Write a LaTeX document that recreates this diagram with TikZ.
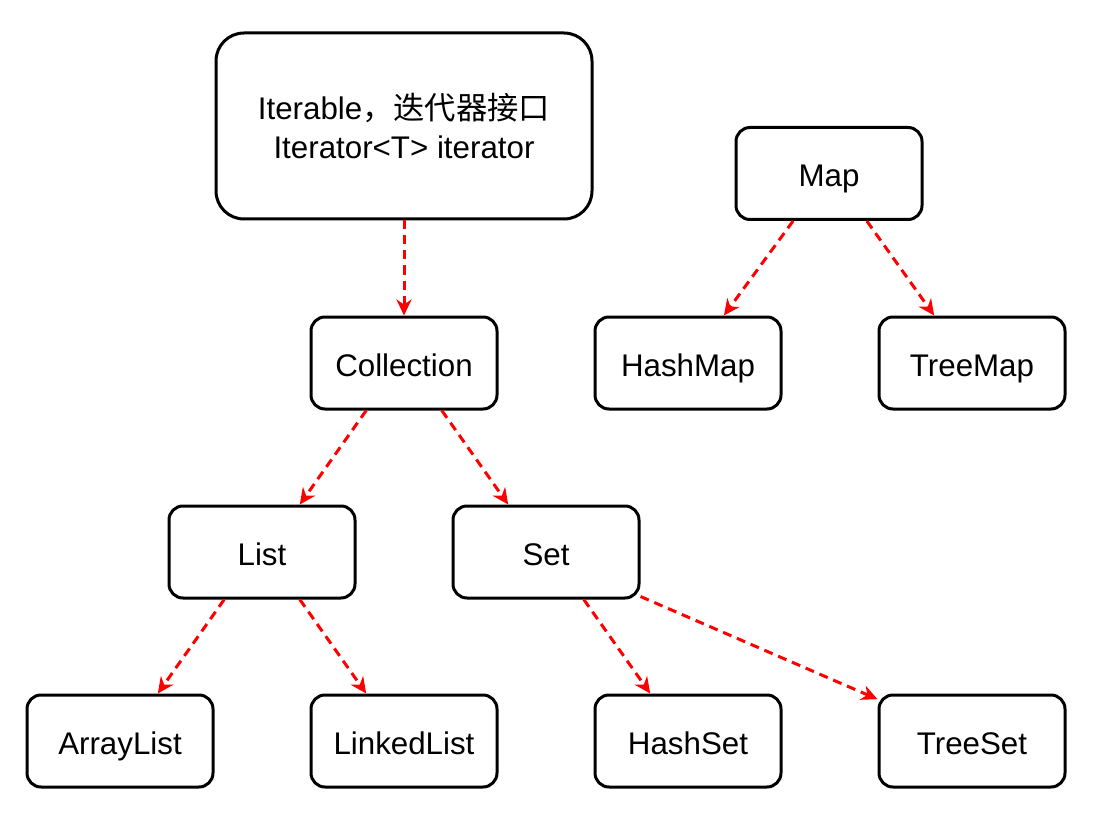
\documentclass[tikz,border=0pt]{standalone}
\usepackage{fontspec}
\setmainfont{Liberation Sans}
\newfontfamily\cjk{Noto Sans CJK SC}
\usetikzlibrary{arrows.meta,calc}
\begin{document}
\begin{tikzpicture}[x=1pt,y=-1pt,
  basebox/.style={draw=black, line width=3pt, rounded corners=14pt, minimum width=186pt,
    minimum height=92pt, inner sep=0pt, fill=white,
    font=\fontsize{31.3}{39}\selectfont},
  box/.style={basebox, text height=27pt, text depth=0pt},
  bigbox/.style={basebox, align=center, minimum width=376pt, minimum height=186pt, rounded corners=28pt},
  link/.style={draw=red, line width=3pt, dash pattern=on 9pt off 6pt,
    -{Stealth[length=16pt,width=15pt,inset=5pt]}}]
\useasboundingbox (0,0) rectangle (1106,821);

\node[bigbox] (iter) at (404,126) {Iterable{\cjk ，迭代器接口}\\Iterator<T> iterator};
\node[box] (map) at (829,173.5) {Map};
\node[box] (coll) at (404,363) {Collection};
\node[box] (hmap) at (688,363) {HashMap};
\node[box] (tmap) at (972,363) {TreeMap};
\node[box] (list) at (262,552) {List};
\node[box] (set) at (546,552) {Set};
\node[box] (alist) at (120,741) {ArrayList};
\node[box] (llist) at (404,741) {LinkedList};
\node[box] (hset) at (688,741) {HashSet};
\node[box] (tset) at (972,741) {TreeSet};

\draw[link] (iter.south) -- (coll.north);
\draw[link] ($(map.south west)!0.31!(map.south east)$) -- ($(hmap.north west)!0.69!(hmap.north east)$);
\draw[link] ($(map.south west)!0.70!(map.south east)$) -- ($(tmap.north west)!0.30!(tmap.north east)$);
\draw[link] ($(coll.south west)!0.30!(coll.south east)$) -- ($(list.north west)!0.70!(list.north east)$);
\draw[link] ($(coll.south west)!0.70!(coll.south east)$) -- ($(set.north west)!0.30!(set.north east)$);
\draw[link] ($(list.south west)!0.30!(list.south east)$) -- ($(alist.north west)!0.70!(alist.north east)$);
\draw[link] ($(list.south west)!0.70!(list.south east)$) -- ($(llist.north west)!0.30!(llist.north east)$);
\draw[link] ($(set.south west)!0.70!(set.south east)$) -- ($(hset.north west)!0.30!(hset.north east)$);
\draw[link] ($(set.south east)+(0,-3)$) -- ($(tset.north west)!0.06!(tset.south west)$);
\end{tikzpicture}
\end{document}
